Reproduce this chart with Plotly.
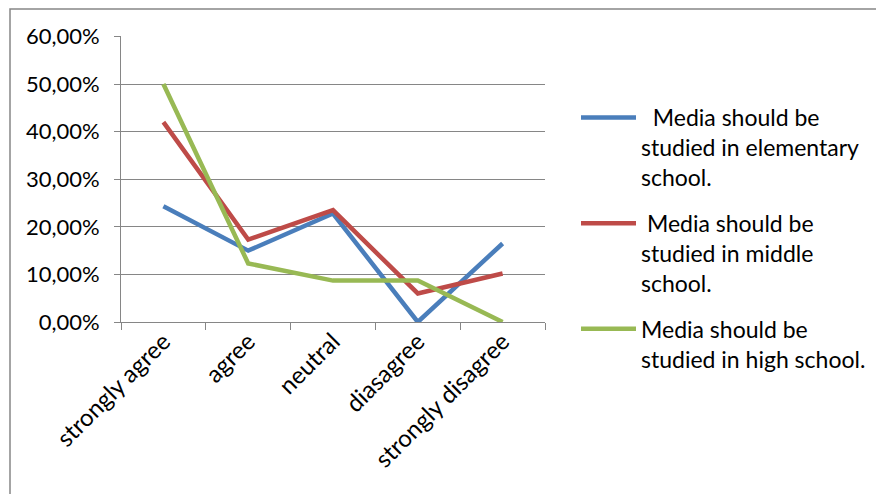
import plotly.graph_objects as go

categories = ["strongly agree", "agree", "neutral", "diasagree", "strongly disagree"]
elementary = [0.243, 0.150, 0.228, 0.0, 0.165]
middle = [0.420, 0.173, 0.235, 0.060, 0.102]
high = [0.500, 0.123, 0.087, 0.087, 0.0]
names = [
    "  Media should be<br>studied in elementary<br>school.",
    " Media should be<br>studied in middle<br>school.",
    "Media should be<br>studied in high school.",
]
colors = ["#4A7EBB", "#BE4B48", "#98B954"]
y_ticks = [0, 0.1, 0.2, 0.3, 0.4, 0.5, 0.6]
y_labels = ["0,00%", "10,00%", "20,00%", "30,00%", "40,00%", "50,00%", "60,00%"]

FONT = "Lato"
GRID = "#868686"

fig = go.Figure()
for i, (vals, nm, col) in enumerate(zip([elementary, middle, high], names, colors)):
    fig.add_trace(go.Scatter(x=categories, y=vals, mode="lines", name=nm,
                             line=dict(color=col, width=4.5), legendgroup=str(i)))

W, H = 876, 494
L, R, T, B = 121, 545, 36, 322
pw, ph = R - L, B - T

def px(x):
    return (x - L) / pw

def py(y):
    return (B - y) / ph

fig.update_layout(
    width=W, height=H,
    margin=dict(l=L, r=W - R, t=T, b=H - B, pad=0, autoexpand=False),
    paper_bgcolor="white", plot_bgcolor="white",
    font=dict(family=FONT, size=22, color="black"),
    showlegend=True,
    legend=dict(x=px(576), y=py(96), xanchor="left", yanchor="top",
                valign="top", tracegroupgap=13, itemwidth=55, maxheight=400,
                font=dict(family=FONT, size=23, color="black"),
                bgcolor="rgba(0,0,0,0)"),
    xaxis=dict(type="category", range=[-0.5, 4.5], tickson="boundaries",
               ticks="outside", ticklen=7, tickcolor=GRID, showline=True,
               linecolor=GRID, linewidth=1, showgrid=False, tickangle=-45,
               ticklabelstandoff=-5,
               tickfont=dict(family=FONT, size=24), fixedrange=True),
    yaxis=dict(range=[0, 0.601], tickvals=y_ticks, ticktext=y_labels,
               ticks="outside", ticklen=6, tickcolor=GRID, showline=True,
               linecolor=GRID, linewidth=1, showgrid=True, gridcolor=GRID,
               gridwidth=1, zeroline=False, ticklabelstandoff=10,
               tickfont=dict(family=FONT, size=22)),
    shapes=[dict(type="rect", xref="paper", yref="paper",
                 x0=px(10), x1=px(900), y0=py(520), y1=py(9),
                 line=dict(color=GRID, width=1.5), fillcolor="rgba(0,0,0,0)",
                 layer="below")],
)

fig.write_html("out.html")
